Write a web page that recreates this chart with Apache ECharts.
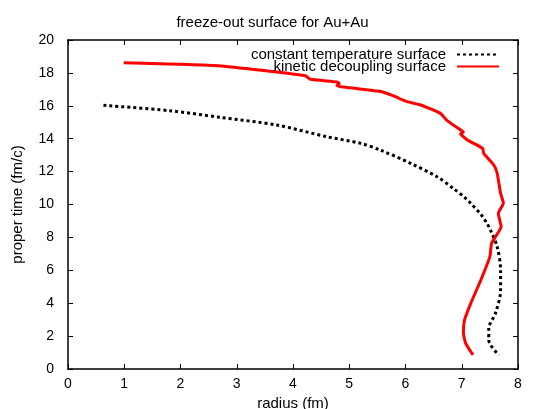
<!DOCTYPE html>
<html><head><meta charset="utf-8">
<script src="https://cdn.jsdelivr.net/npm/echarts@6/dist/echarts.min.js"></script>
<style>html,body{margin:0;padding:0;background:#fff;overflow:hidden}#c{width:545px;height:409px}</style>
</head><body><div id="c"></div>
<script>
var titleText = 'freeze-out surface for Au+Au';
var xName = 'radius (fm)';
var yName = 'proper time (fm/c)';
var seriesNames = ['constant temperature surface', 'kinetic decoupling surface'];
// constant temperature surface: [radius, tau]
var constTemp = [
 [0.63,16.03],[1.81,15.7],[2.70,15.3],[3.71,14.83],[4.60,14.12],[5.20,13.72],[5.55,13.31],
 [6.09,12.5],[6.56,11.69],[6.86,10.95],[7.04,10.47],[7.16,10.07],[7.34,9.4],[7.44,8.9],
 [7.51,8.45],[7.63,7.43],[7.69,6.02],[7.69,4.80],[7.60,3.39],[7.48,2.47],[7.48,1.76],[7.66,0.85]
];
// kinetic decoupling surface: [radius, tau]
var kinetic = [
 [0.99,18.62],[2.67,18.44],[4.22,17.83],[4.31,17.61],[4.78,17.45],[4.82,17.36],[4.78,17.22],
 [5.58,16.86],[5.79,16.6],[6.03,16.25],[6.27,16.05],[6.62,15.54],[6.74,15.1],[6.98,14.53],
 [7.03,14.4],[6.98,14.3],[7.10,13.92],[7.37,13.42],[7.39,13.11],[7.57,12.4],[7.63,11.9],
 [7.69,10.68],[7.74,10.07],[7.65,9.46],[7.70,8.65],[7.60,8.04],[7.53,7.64],[7.50,6.83],
 [7.34,5.41],[7.16,3.99],[7.05,2.98],[7.03,2.17],[7.07,1.56],[7.20,0.85]
];
var font = 'Liberation Sans, Arial, sans-serif';
var el = document.getElementById('c');
var chart = echarts.init(el, null, {renderer:'canvas'});
var tick = {show:true, inside:true, length:5, lineStyle:{color:'#000', width:1}};
var axLine = {show:true, onZero:false, lineStyle:{color:'#000', width:1.5}};
chart.setOption({
  animation:false,
  backgroundColor:'#fff',
  title:{text:titleText, left:'center', top:10, textStyle:{fontFamily:font, fontSize:15, fontWeight:'normal', color:'#000'}},
  grid:{left:68, right:27, top:40, bottom:40, containLabel:false, outerBoundsMode:'none'},
  legend:{
    right:40, top:42, orient:'vertical', align:'right', itemGap:-3, itemWidth:42, itemHeight:8,
    itemStyle:{opacity:0},
    textStyle:{fontFamily:font, fontSize:15, color:'#000', padding:[0,6,0,0]},
    data:[seriesNames[0], seriesNames[1]]
  },
  xAxis:[
    {type:'value', min:0, max:8, interval:1, name:xName, nameLocation:'middle', nameGap:27,
     nameTextStyle:{fontFamily:font, fontSize:15, color:'#000'},
     axisLine:axLine, axisTick:tick, splitLine:{show:false},
     axisLabel:{fontFamily:font, fontSize:14, color:'#000', margin:8}},
    {type:'value', min:0, max:8, interval:1, position:'top',
     axisLine:axLine, axisTick:tick, splitLine:{show:false}, axisLabel:{show:false}}
  ],
  yAxis:[
    {type:'value', min:0, max:20, interval:2, name:yName, nameLocation:'middle', nameGap:43,
     nameTextStyle:{fontFamily:font, fontSize:15, color:'#000'},
     axisLine:axLine, axisTick:tick, splitLine:{show:false},
     axisLabel:{fontFamily:font, fontSize:14, color:'#000', margin:14}},
    {type:'value', min:0, max:20, interval:2, position:'right',
     axisLine:axLine, axisTick:tick, splitLine:{show:false}, axisLabel:{show:false}}
  ],
  series:[
    {name:seriesNames[0], type:'line', data:constTemp, showSymbol:false, symbol:'none', smooth:0.3,
     lineStyle:{color:'#000', width:3, type:[3,3]}, itemStyle:{color:'#000'}},
    {name:seriesNames[1], type:'line', data:kinetic, showSymbol:false, symbol:'none', smooth:0.15,
     lineStyle:{color:'#ff0000', width:3}, itemStyle:{color:'#ff0000'}}
  ]
});
</script></body></html>
